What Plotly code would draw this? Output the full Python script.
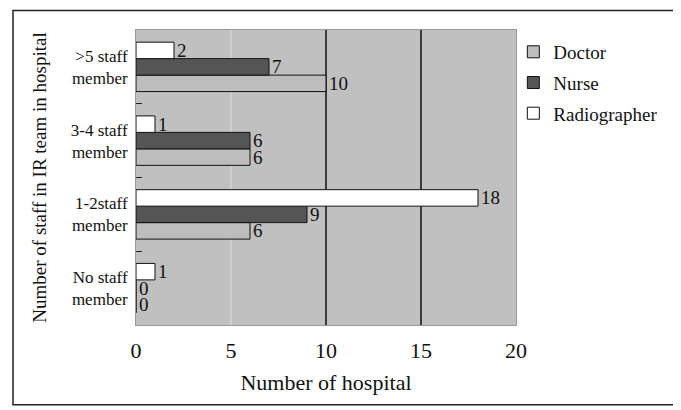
import plotly.graph_objects as go

categories = [">5 staff<br>member", "3-4 staff<br>member", "1-2staff<br>member", "No staff<br>member"]
doctor = [10, 6, 6, 0]
nurse = [7, 6, 9, 0]
radiographer = [2, 1, 18, 1]
x_ticks = [0, 5, 10, 15, 20]

FONT = "Liberation Serif"
order_bottom_up = categories[::-1]

fig = go.Figure()
series = [("Doctor", doctor, "#bdbdbd"), ("Nurse", nurse, "#555555"), ("Radiographer", radiographer, "#ffffff")]
for name, vals, col in series:
    fig.add_trace(go.Bar(
        y=categories, x=vals, name=name, orientation="h", legendgroup=name,
        marker=dict(color=col, line=dict(color="#111111", width=1)),
        text=[str(v) for v in vals], textposition="outside", cliponaxis=False,
        constraintext="none",
        textfont=dict(family=FONT, size=19, color="#111111"),
    ))

# grid lines
grid_style = {5: "#d4d4d4", 10: "#111111", 15: "#111111"}
for gx, gc in grid_style.items():
    fig.add_shape(type="line", xref="x", yref="paper", x0=gx, x1=gx, y0=0, y1=1,
                  line=dict(color=gc, width=1.5), layer="below")

# outer frame
fig.add_shape(type="rect", xref="paper", yref="paper",
              x0=-0.3237, x1=1.424, y0=-0.27, y1=1.066,
              line=dict(color="#222222", width=1.5))

# the page body adds an 8px offset, so the figure is sized/offset to compensate
fig.update_layout(
    width=673, height=402,
    margin=dict(l=128, r=165, t=22, b=85),
    paper_bgcolor="white", plot_bgcolor="#c0c0c0",
    barmode="group", bargap=0.33, bargroupgap=0,
    font=dict(family=FONT, color="#111111"),
    showlegend=True,
    legend=dict(x=0.993, y=0.99, xanchor="left", yanchor="top",
                traceorder="grouped", tracegroupgap=3,
                font=dict(family=FONT, size=19), itemwidth=30,
                bgcolor="rgba(0,0,0,0)"),
    xaxis=dict(range=[0, 20], tickvals=x_ticks, showgrid=False, zeroline=False,
               tickfont=dict(family=FONT, size=22), ticks="", automargin=False,
               ticklabelstandoff=6,
               title=dict(text="Number of hospital", font=dict(family=FONT, size=22), standoff=12),
               showline=True, linecolor="#999999", mirror=True, fixedrange=True),
    yaxis=dict(categoryorder="array", categoryarray=order_bottom_up, automargin=False,
               tickfont=dict(family=FONT, size=17), showgrid=False, ticklabelstandoff=4,
               ticks="inside", tickson="boundaries", ticklen=6, tickcolor="#222222",
               title=dict(text="Number of staff in IR team in hospital", font=dict(family=FONT, size=19), standoff=19),
               showline=True, linecolor="#999999", mirror=True),
)

fig.write_html("out.html")
